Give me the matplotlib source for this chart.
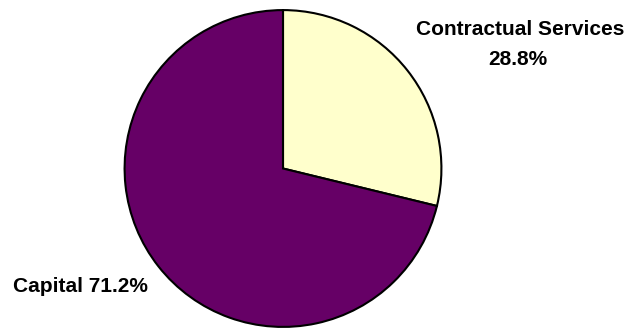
import matplotlib
matplotlib.use("Agg")
import matplotlib.pyplot as plt

categories = ["Contractual Services", "Capital"]
shares = [28.8, 71.2]
colors = ["#FFFFCC", "#660066"]

W, H = 631, 331
fig = plt.figure(figsize=(W / 100, H / 100), dpi=100)
plt.rcParams["font.family"] = ["Liberation Sans", "DejaVu Sans"]

# pie occupies a 320 px square box
cx, cy, r = 283, 168.5, 160
ax = fig.add_axes([(cx - r) / W, (H - cy - r) / H, 2 * r / W, 2 * r / H])
ax.pie(shares, colors=colors, startangle=90, counterclock=False, radius=1,
       wedgeprops=dict(edgecolor="black", linewidth=1.5))
ax.set_xlim(-1.01, 1.01)
ax.set_ylim(-1.01, 1.01)
ax.set_aspect("equal")
ax.axis("off")

fs = 15
fig.text(520 / W, 1 - 35 / H, categories[0],
         ha="center", va="baseline", fontsize=fs, fontweight="bold")
fig.text(518 / W, 1 - 65 / H, f"{shares[0]:.1f}%",
         ha="center", va="baseline", fontsize=fs, fontweight="bold")
fig.text(13 / W, 1 - 292 / H, f"{categories[1]} {shares[1]:.1f}%",
         ha="left", va="baseline", fontsize=fs, fontweight="bold")

fig.savefig("out.png", dpi=100)
